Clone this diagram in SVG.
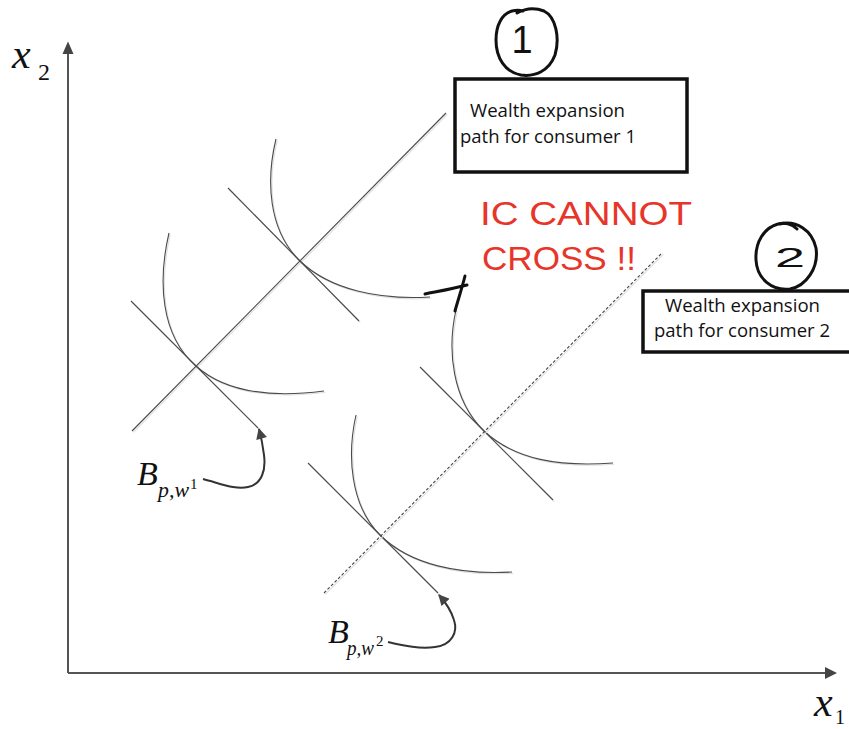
<svg xmlns="http://www.w3.org/2000/svg" width="849" height="729" viewBox="0 0 849 729">
<style>
.ln{fill:none;stroke-width:1.1}
.axis{stroke:#555;stroke-width:2;fill:none}
.ahd{fill:#444;stroke:none}
.box{fill:#fff;stroke:#111;stroke-width:3.5}
.bt{font-family:"Open Sans","Liberation Sans",sans-serif;font-size:18.5px;fill:#111}
.math{font-family:"Liberation Serif",serif;font-style:italic;fill:#111}
.num{font-family:"Liberation Serif",serif;fill:#111}
.hand{fill:none;stroke:#111;stroke-width:3;stroke-linecap:round;stroke-linejoin:round}
.hnum{font-family:"Liberation Sans",sans-serif;fill:#111}
.red{font-family:"Liberation Sans",sans-serif;fill:#e8352a}
.conn{fill:none;stroke:#333;stroke-width:2}
</style>
<defs>
<marker id="arr" viewBox="0 0 10 10" refX="9" refY="5" markerWidth="12" markerHeight="11" markerUnits="userSpaceOnUse" orient="auto">
<path d="M0,0 L10,5 L0,10 z" fill="#444"/>
</marker>
<g id="plot">
<path id="wep1" d="M132,431 L446,113"/>
<path id="bl1" d="M131,301 L258,428"/>
<path id="bl2" d="M228,188 L359,321"/>
<path id="bl3" d="M420,367 L553,500"/>
<path id="bl4" d="M308,463 L438,593"/>
<path id="ic1" d="M169,233 C158,280 160,335 196,366 C225,392 270,398 324,391"/>
<path id="ic2" d="M276,139 C266,180 268,230 300,261 C330,290 380,300 430,297"/>
<path id="ic3" d="M456,310 C447,350 452,400 484,431 C515,460 560,467 613,463"/>
<path id="ic4" d="M356,415 C347,455 350,505 380,535 C410,565 460,575 512,572"/>
</g>
</defs>
<rect width="849" height="729" fill="#fff"/>
<g id="axes">
<path class="axis" d="M68,673 L68,53 M68,673 L826,673"/>
<path class="ahd" d="M62.5,54 L68,41.5 L73.5,54 z"/>
<path class="ahd" d="M825,667 L837,673 L825,679 z"/>
<text class="math" x="12" y="68" font-size="42">x</text>
<text class="num" x="38" y="80" font-size="24">2</text>
<text class="math" x="814" y="716" font-size="42">x</text>
<text class="num" x="835" y="724" font-size="20">1</text>
</g>
<g id="curves">
<use href="#plot" transform="translate(1.3,1.3)" class="ln" stroke="#dedede"/>
<use href="#plot" class="ln" stroke="#4a4a4a"/>
<path id="wep2-shadow" d="M325.3,594.3 L663.3,254.3" fill="none" stroke="#dedede" stroke-width="1.1"/>
<path id="wep2" d="M324,593 L662,253" fill="none" stroke="#444" stroke-width="1.1" stroke-dasharray="3,2"/>
</g>
<g id="cross-mark">
<path class="hand" d="M425,294 C440,291 452,289 467,285"/>
<path class="hand" d="M465,276 C462,288 458,300 455,311"/>
</g>
<g id="box1">
<rect class="box" x="455" y="79" width="232" height="93"/>
<text class="bt" x="470" y="117" textLength="155" lengthAdjust="spacingAndGlyphs">Wealth expansion</text>
<text class="bt" x="460" y="143" textLength="176" lengthAdjust="spacingAndGlyphs">path for consumer 1</text>
</g>
<g id="label1">
<path class="hand" d="M517,13 C524,9 534,7 544,11 C556,17 560,38 555,55 C549,71 535,77 521,75 C505,72 496,58 496,40 C496,25 502,14 512,11 C516,10 520,10 523,11"/>
<text class="hnum" x="522" y="53" font-size="38" text-anchor="middle">1</text>
</g>
<g id="box2">
<rect class="box" x="643" y="291" width="220" height="61"/>
<text class="bt" x="665" y="312" textLength="155" lengthAdjust="spacingAndGlyphs">Wealth expansion</text>
<text class="bt" x="654" y="337" textLength="176" lengthAdjust="spacingAndGlyphs">path for consumer 2</text>
</g>
<g id="label2">
<path class="hand" d="M780,224 C796,220 812,230 816,248 C819,268 806,286 790,289 C772,291 757,279 756,260 C755,242 764,228 778,224 C784,222 792,224 797,229"/>
<text class="hnum" x="790" y="267" font-size="28" text-anchor="middle" textLength="30" lengthAdjust="spacingAndGlyphs">2</text>
</g>
<g id="note">
<text class="red" x="480" y="225" font-size="34" textLength="212" lengthAdjust="spacingAndGlyphs">IC CANNOT</text>
<text class="red" x="482" y="270" font-size="34" textLength="154" lengthAdjust="spacingAndGlyphs">CROSS !!</text>
</g>
<g id="budget-labels">
<text class="math" x="137" y="485" font-size="34">B</text>
<text class="math" x="158" y="497" font-size="21" textLength="31" lengthAdjust="spacingAndGlyphs">p,w</text>
<text class="num" x="190" y="489" font-size="15">1</text>
<text class="math" x="328" y="643" font-size="34">B</text>
<text class="math" x="347" y="655" font-size="21" textLength="27" lengthAdjust="spacingAndGlyphs">p,w</text>
<text class="num" x="376" y="646" font-size="15">2</text>
</g>
<g id="connectors">
<path class="conn" marker-end="url(#arr)" d="M203,479 C222,484 236,490 248,487 C262,484 266,470 264,455 C263,447 262,440 259,429"/>
<path class="conn" marker-end="url(#arr)" d="M388,642 C405,646 420,649 435,647 C452,645 458,632 454,620 C451,610 447,604 439,595"/>
</g>
</svg>
